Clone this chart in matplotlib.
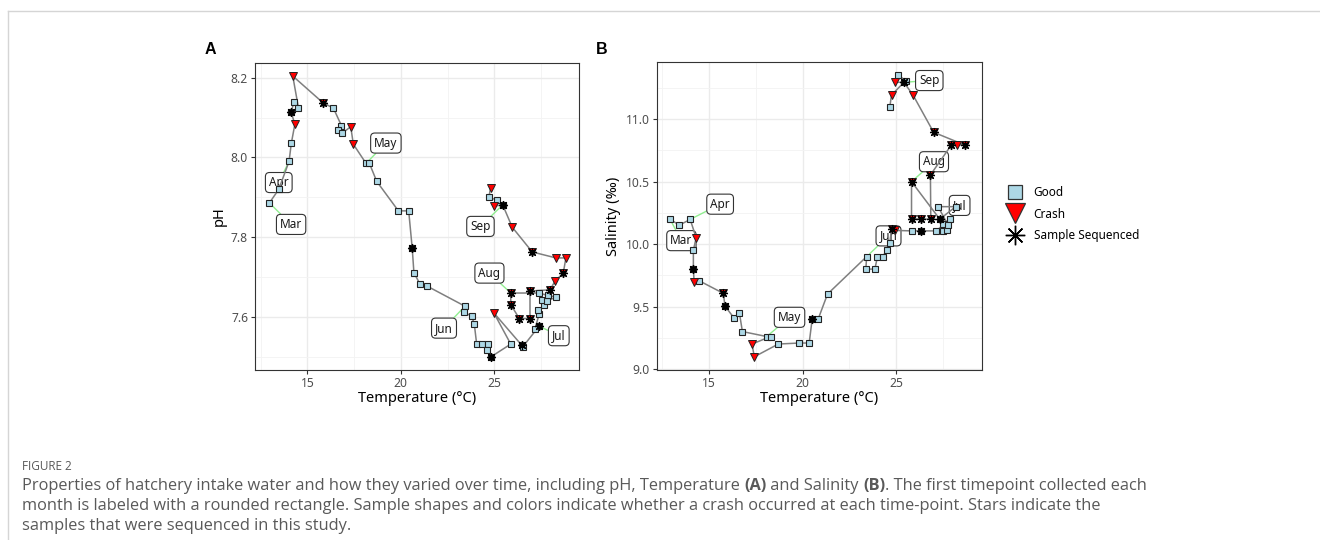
import matplotlib
matplotlib.use("Agg")
import matplotlib.pyplot as plt
from matplotlib.lines import Line2D
from matplotlib.ticker import MultipleLocator, FormatStrFormatter
from matplotlib import font_manager

# ---- panel A: temperature vs pH, in time order ----
temp_a = [12.97, 13.47, 14.02, 14.14, 14.33, 14.13, 14.29, 14.52, 14.22, 15.86,
          16.39, 16.82, 16.66, 16.84, 17.32, 17.46, 18.14, 18.32, 18.71, 19.87,
          20.42, 20.61, 20.70, 21.03, 21.38, 23.43, 23.38, 23.79, 23.93, 24.06,
          24.32, 24.68, 24.59, 24.82, 25.88, 24.98, 26.47, 26.52, 27.40, 27.18,
          27.40, 27.35, 27.67, 27.53, 27.80, 28.30, 27.85, 27.40, 25.88, 25.88,
          26.34, 26.91, 26.91, 27.98, 28.25, 28.69, 28.83, 28.30, 27.03, 25.96,
          25.45, 25.00, 25.16, 24.71, 24.80]
ph_a = [7.886, 7.920, 7.990, 8.035, 8.083, 8.114, 8.139, 8.125, 8.204, 8.136,
        8.124, 8.080, 8.068, 8.060, 8.077, 8.033, 7.985, 7.985, 7.940, 7.866,
        7.866, 7.772, 7.711, 7.682, 7.678, 7.627, 7.612, 7.602, 7.582, 7.531,
        7.531, 7.531, 7.517, 7.500, 7.532, 7.610, 7.529, 7.525, 7.577, 7.571,
        7.607, 7.617, 7.629, 7.643, 7.639, 7.650, 7.654, 7.660, 7.660, 7.631,
        7.596, 7.596, 7.665, 7.668, 7.690, 7.710, 7.748, 7.748, 7.763, 7.825,
        7.881, 7.878, 7.893, 7.900, 7.924]
crash_a = [0, 0, 0, 0, 1, 0, 0, 0, 1, 1,
           0, 0, 0, 0, 1, 1, 0, 0, 0, 0,
           0, 0, 0, 0, 0, 0, 0, 0, 0, 0,
           0, 0, 0, 0, 0, 1, 0, 0, 0, 0,
           0, 0, 0, 0, 0, 0, 0, 0, 1, 1,
           1, 1, 1, 1, 1, 1, 1, 1, 1, 1,
           0, 1, 0, 0, 1]
seq_a = [0, 0, 0, 0, 0, 1, 0, 0, 0, 1,
         0, 0, 0, 0, 0, 0, 0, 0, 0, 0,
         0, 1, 0, 0, 0, 0, 0, 0, 0, 0,
         0, 0, 0, 1, 0, 0, 1, 0, 1, 0,
         0, 0, 0, 0, 0, 0, 0, 0, 1, 1,
         1, 1, 1, 1, 0, 1, 0, 0, 1, 0,
         1, 0, 0, 0, 0]
month_start_a = {"Mar": 0, "Apr": 2, "May": 16, "Jun": 25, "Jul": 38, "Aug": 48, "Sep": 60}

# ---- panel B: temperature vs salinity, in time order ----
temp_b = [12.92, 13.41, 13.99, 14.31, 14.16, 14.16, 14.20, 14.48, 15.76, 15.85,
          16.35, 16.62, 16.78, 18.08, 18.29, 17.29, 17.42, 18.70, 19.82, 20.35,
          20.51, 20.83, 21.33, 23.42, 23.38, 23.86, 24.00, 24.27, 24.52, 24.66,
          24.75, 24.93, 25.82, 26.31, 27.15, 27.86, 27.50, 27.72, 27.50, 27.77,
          27.24, 28.18, 27.33, 25.82, 25.82, 26.31, 26.85, 26.83, 27.95, 28.25,
          28.66, 27.00, 25.90, 25.41, 24.93, 25.10, 25.51, 24.75, 24.66]
sal_b = [10.198, 10.152, 10.198, 10.050, 9.952, 9.800, 9.700, 9.706, 9.606, 9.504,
         9.405, 9.450, 9.300, 9.260, 9.260, 9.200, 9.098, 9.200, 9.208, 9.208,
         9.400, 9.400, 9.600, 9.900, 9.800, 9.800, 9.900, 9.900, 9.954, 10.008,
         10.120, 10.110, 10.106, 10.106, 10.106, 10.202, 10.106, 10.114, 10.162, 10.154,
         10.300, 10.300, 10.200, 10.500, 10.200, 10.200, 10.200, 10.554, 10.794, 10.794,
         10.794, 10.896, 11.194, 11.296, 11.296, 11.354, 11.310, 11.194, 11.100]
crash_b = [0, 0, 0, 1, 0, 0, 1, 0, 1, 0,
           0, 0, 0, 0, 0, 1, 1, 0, 0, 0,
           0, 0, 0, 0, 0, 0, 0, 0, 0, 0,
           1, 1, 0, 0, 0, 0, 0, 0, 0, 0,
           0, 0, 0, 1, 1, 1, 1, 1, 1, 1,
           1, 1, 1, 0, 1, 0, 0, 1, 0]
seq_b = [0, 0, 0, 0, 0, 1, 0, 0, 1, 1,
         0, 0, 0, 0, 0, 0, 0, 0, 0, 0,
         1, 0, 0, 0, 0, 0, 0, 0, 0, 0,
         1, 0, 0, 1, 0, 0, 0, 0, 0, 0,
         0, 0, 1, 1, 1, 1, 1, 1, 1, 0,
         1, 1, 0, 1, 0, 0, 0, 0, 0]
month_start_b = {"Mar": 0, "Apr": 2, "May": 13, "Jun": 23, "Jul": 35, "Aug": 43, "Sep": 53}

# label box centres (layout only)
label_pos_a = {"Mar": (14.13, 7.832), "Apr": (13.47, 7.937), "May": (19.2, 8.036),
               "Jun": (22.31, 7.572), "Jul": (28.45, 7.553), "Aug": (24.74, 7.71),
               "Sep": (24.26, 7.827)}
label_pos_b = {"Mar": (13.52, 10.028), "Apr": (15.59, 10.32), "May": (19.3, 9.414),
               "Jun": (24.59, 10.066), "Jul": (28.39, 10.31), "Aug": (27.02, 10.66),
               "Sep": (26.77, 11.31)}

GOOD = "#ADD8E6"
CRASH = "#FF0000"
LINE = "#7F7F7F"
STAR = (8, 2, 0)

plt.rcParams["font.family"] = ["Noto Sans", "DejaVu Sans"]


def pick_family(names, default):
    for n in names:
        try:
            font_manager.findfont(font_manager.FontProperties(family=n),
                                  fallback_to_default=False)
            return n
        except Exception:
            pass
    return default


CAP_FAMILY = pick_family(["Liberation Sans Narrow", "Open Sans"], "DejaVu Sans")

fig = plt.figure(figsize=(13.2, 5.4), dpi=100)


def draw_panel(ax, temp, yv, crash, seq, starts, label_pos):
    for name, i in starts.items():
        ax.annotate(name, xy=(temp[i], yv[i]), xytext=label_pos[name],
                    textcoords="data", ha="center", va="center", fontsize=8.5,
                    color="#1a1a1a", zorder=2,
                    bbox=dict(boxstyle="round,pad=0.3,rounding_size=0.35",
                              fc="white", ec="#333333", lw=0.8),
                    arrowprops=dict(arrowstyle="-", color="#90EE90", lw=1.0,
                                    shrinkA=0, shrinkB=3))
    ax.plot(temp, yv, color=LINE, lw=1.1, zorder=3)
    g = [i for i in range(len(temp)) if not crash[i]]
    c = [i for i in range(len(temp)) if crash[i]]
    s = [i for i in range(len(temp)) if seq[i]]
    ax.plot([temp[i] for i in g], [yv[i] for i in g], ls="none", marker="s",
            ms=4.6, mfc=GOOD, mec="#222222", mew=0.8, zorder=4)
    ax.plot([temp[i] for i in c], [yv[i] for i in c], ls="none", marker="v",
            ms=6.3, mfc=CRASH, mec="#222222", mew=0.7, zorder=5)
    ax.plot([temp[i] for i in s], [yv[i] for i in s], ls="none", marker=STAR,
            ms=6.5, color="black", mew=0.9, zorder=6)


def style_axes(ax, xlabel, ylabel):
    ax.set_facecolor("white")
    ax.grid(True, which="major", color="#EBEBEB", lw=1.0, zorder=0)
    ax.grid(True, which="minor", color="#F3F3F3", lw=0.6, zorder=0)
    ax.set_axisbelow(True)
    for sp in ax.spines.values():
        sp.set_color("#333333")
        sp.set_linewidth(0.8)
    ax.tick_params(which="major", length=3, width=0.8, color="#333333",
                   labelsize=8.7, labelcolor="#4D4D4D", pad=2)
    ax.tick_params(which="minor", length=0)
    ax.set_xlabel(xlabel, fontsize=10.5, color="black", labelpad=1)
    ax.set_ylabel(ylabel, fontsize=10.5, color="black", labelpad=3)


ax_a = fig.add_axes([0.1932, 0.3148, 0.2457, 0.5691])
draw_panel(ax_a, temp_a, ph_a, crash_a, seq_a, month_start_a, label_pos_a)
ax_a.set_xlim(12.2, 29.55)
ax_a.set_ylim(7.467, 8.2375)
ax_a.xaxis.set_major_locator(MultipleLocator(5))
ax_a.xaxis.set_minor_locator(MultipleLocator(2.5))
ax_a.yaxis.set_major_locator(MultipleLocator(0.2))
ax_a.yaxis.set_minor_locator(MultipleLocator(0.1))
ax_a.yaxis.set_major_formatter(FormatStrFormatter("%.1f"))
style_axes(ax_a, "Temperature (°C)", "pH")

ax_b = fig.add_axes([0.4975, 0.3148, 0.2462, 0.5698])
draw_panel(ax_b, temp_b, sal_b, crash_b, seq_b, month_start_b, label_pos_b)
ax_b.set_xlim(12.2, 29.57)
ax_b.set_ylim(8.992, 11.456)
ax_b.xaxis.set_major_locator(MultipleLocator(5))
ax_b.xaxis.set_minor_locator(MultipleLocator(2.5))
ax_b.yaxis.set_major_locator(MultipleLocator(0.5))
ax_b.yaxis.set_minor_locator(MultipleLocator(0.25))
ax_b.yaxis.set_major_formatter(FormatStrFormatter("%.1f"))
style_axes(ax_b, "Temperature (°C)", "Salinity (‰)")

fig.text(205 / 1320, 1 - 50 / 540, "A", fontsize=11.5, fontweight="bold",
         family="Liberation Sans", va="center")
fig.text(596 / 1320, 1 - 50 / 540, "B", fontsize=11.5, fontweight="bold",
         family="Liberation Sans", va="center")

handles = [
    Line2D([], [], ls="none", marker="s", ms=10, mfc=GOOD, mec="#333333", mew=0.9),
    Line2D([], [], ls="none", marker="v", ms=15, mfc=CRASH, mec="#333333", mew=0.9),
    Line2D([], [], ls="none", marker=STAR, ms=14, color="black", mew=1.0),
]
fig.legend(handles, ["Good", "Crash", "Sample Sequenced"], loc="upper left",
           bbox_to_anchor=(1003 / 1320, 1 - 181 / 540), frameon=False,
           fontsize=8.5, handlelength=1.2, handletextpad=1.0, labelspacing=0.75,
           borderaxespad=0)

# page frame
fig.add_artist(Line2D([8 / 1320, 1], [1 - 11 / 540, 1 - 11 / 540], color="#D5D5D5", lw=1))
fig.add_artist(Line2D([8 / 1320, 8 / 1320], [0, 1 - 11 / 540], color="#D5D5D5", lw=1))

# caption
CAP = "#595959"
fig.text(22 / 1320, 1 - 466 / 540, "FIGURE 2", fontsize=8.5, color=CAP,
         family=CAP_FAMILY, va="center")

caption_lines = [
    [("Properties of hatchery intake water and how they varied over time, including pH, Temperature ", "normal"),
     ("(A)", "bold"), (" and Salinity ", "normal"), ("(B)", "bold"),
     (". The first timepoint collected each", "normal")],
    [("month is labeled with a rounded rectangle. Sample shapes and colors indicate whether a crash occurred at each time-point. Stars indicate the", "normal")],
    [("samples that were sequenced in this study.", "normal")],
]
caption_y = [486, 506, 526]

renderer = fig.canvas.get_renderer()

# size the caption so its first line spans close to the reference width
probe = fig.text(0, 0, "".join(t for t, _ in caption_lines[0]), fontsize=10,
                 family=CAP_FAMILY)
cap_size = 10 * 1272 / probe.get_window_extent(renderer=renderer).width
probe.remove()
cap_size = min(cap_size, 11.8)

for runs, ypx in zip(caption_lines, caption_y):
    x = 22.0
    for txt, wt in runs:
        t = fig.text(x / 1320, 1 - ypx / 540, txt, fontsize=cap_size, color=CAP,
                     family=CAP_FAMILY, fontweight=wt, va="center")
        x += t.get_window_extent(renderer=renderer).width

fig.savefig("out.png", dpi=100, facecolor="white")
